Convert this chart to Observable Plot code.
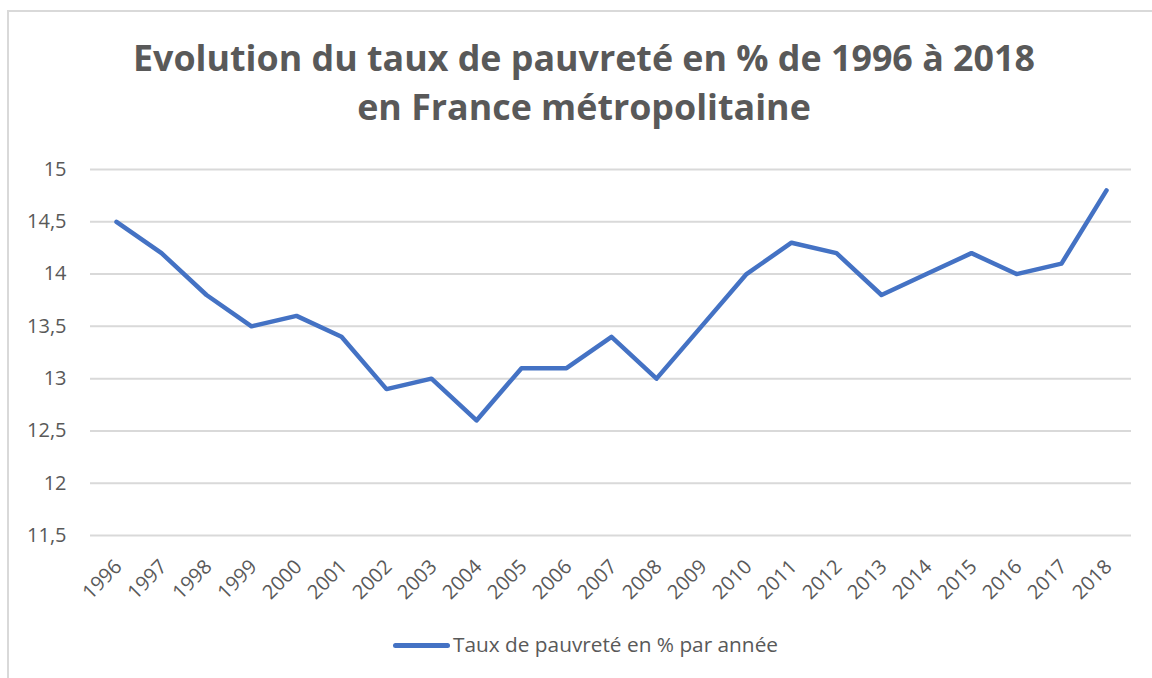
<!DOCTYPE html>
<html>
<head>
<meta charset="utf-8">
<script src="https://cdn.jsdelivr.net/npm/d3@7"></script>
<script src="https://cdn.jsdelivr.net/npm/@observablehq/plot@0.6"></script>
<style>
  html, body { margin: 0; padding: 0; background: #fff; }
  #wrap { position: relative; width: 1152px; height: 678px; overflow: hidden; font-family: "Open Sans", sans-serif; color: #595959; }
  #frame { position: absolute; left: 7px; top: 10px; width: 1200px; height: 720px; border-left: 2px solid #d9d9d9; border-top: 2px solid #d9d9d9; }
  .title { position: absolute; left: 8px; width: 1152px; text-align: center; font-weight: 700; color: #595959; white-space: nowrap; line-height: 1; }
  #plot { position: absolute; left: 0; top: 140px; }
  #legend { position: absolute; left: 393px; top: 630px; display: flex; align-items: center; font-size: 20.8px; line-height: 28px; color: #595959; }
  #legend .sw { width: 57px; height: 5px; border-radius: 3px; background: #4472C4; margin-right: 3px; margin-top: 2px; }
</style>
</head>
<body>
<div id="wrap">
  <div id="frame"></div>
  <div class="title" id="t1">Evolution du taux de pauvreté en % de 1996 à 2018</div>
  <div class="title" id="t2">en France métropolitaine</div>
  <div id="plot"></div>
  <div id="legend"><span class="sw"></span><span>Taux de pauvreté en % par année</span></div>
</div>
<script>
const years = [1996,1997,1998,1999,2000,2001,2002,2003,2004,2005,2006,2007,2008,2009,2010,2011,2012,2013,2014,2015,2016,2017,2018];
const rates = [14.5,14.2,13.8,13.5,13.6,13.4,12.9,13.0,12.6,13.1,13.1,13.4,13.0,13.5,14.0,14.3,14.2,13.8,14.0,14.2,14.0,14.1,14.8];
const yTicks = [11.5,12,12.5,13,13.5,14,14.5,15];

const data = years.map((y, i) => ({year: y, value: rates[i]}));

// Fit title font size to the reference width
const cv = document.createElement("canvas").getContext("2d");
cv.font = "700 40px 'Open Sans'";
const w1 = cv.measureText(document.getElementById("t1").textContent).width;
const fs = 40 * 902 / w1;
for (const id of ["t1", "t2"]) {
  document.getElementById(id).style.fontSize = fs + "px";
}
document.getElementById("t1").style.top = (72 - fs * 0.888) + "px";
document.getElementById("t2").style.top = (121 - fs * 0.888) + "px";

const chart = Plot.plot({
  width: 1152,
  height: 485,
  marginTop: 29,
  marginBottom: 90,
  marginLeft: 90,
  marginRight: 21,
  style: {fontFamily: "'Open Sans', sans-serif", fontSize: "20px", color: "#595959", background: "transparent", overflow: "visible"},
  x: {type: "point", domain: years, padding: 0.5, align: 0.5},
  y: {domain: [11.5, 15]},
  marks: [
    Plot.ruleY(yTicks, {stroke: "#d9d9d9", strokeWidth: 2}),
    Plot.axisY({ticks: yTicks, tickSize: 0, tickPadding: 24, label: null, tickFormat: d => String(d).replace(".", ","), fill: "#595959"}),
    Plot.axisX({tickSize: 0, tickPadding: 28, dx: 2, tickRotate: -45, label: null, tickFormat: d => String(d), fill: "#595959"}),
    Plot.line(data, {x: "year", y: "value", stroke: "#4472C4", strokeWidth: 4.5, strokeLinejoin: "round", strokeLinecap: "round"})
  ]
});
document.getElementById("plot").appendChild(chart);
</script>
</body>
</html>
